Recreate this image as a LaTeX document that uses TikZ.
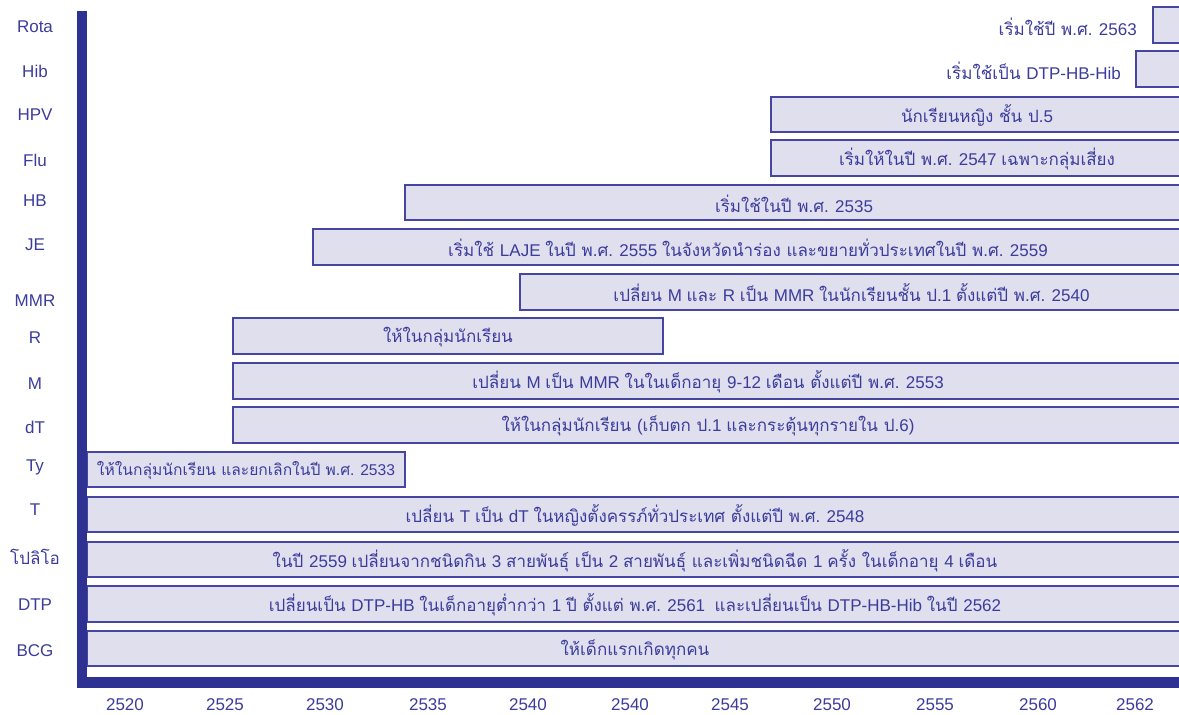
\documentclass[tikz,border=0pt]{standalone}
\usepackage{fontspec}
\setmainfont{Liberation Sans}
\newfontfamily\thaifont[Script=Thai]{Loma}
\newfontfamily\latinfont{Liberation Sans}
\usetikzlibrary{calc}
% switch to the Thai face for Thai letters
\XeTeXinterchartokenstate=1
\newXeTeXintercharclass\thaicls
\newcount\thaich
\thaich="0E00
\loop\ifnum\thaich<"0E80
	\XeTeXcharclass\thaich=\thaicls
	\advance\thaich by 1
\repeat
\XeTeXinterchartoks 0 \thaicls = {\thaifont}
\XeTeXinterchartoks 4095 \thaicls = {\thaifont}
\XeTeXinterchartoks \thaicls 0 = {\latinfont}
\XeTeXinterchartoks 4095 0 = {\latinfont}

\definecolor{axisblue}{HTML}{2E3192}
\definecolor{textblue}{HTML}{3C3C9C}
\definecolor{barfill}{HTML}{DFDFEE}
\definecolor{barline}{HTML}{4646A0}

\tikzset{
	bar/.style={draw=barline, fill=barfill, line width=1.2pt},
	bartext/.style={text=textblue, inner sep=0pt, font=\fontsize{17}{20}\selectfont},
	rowlbl/.style={text=textblue, inner sep=0pt, font=\fontsize{17}{20}\selectfont},
	yrlbl/.style={text=textblue, inner sep=0pt, font=\fontsize{17}{20}\selectfont}
}
\def\vacbar#1(#2,#3)(#4,#5)#6{\draw[bar] (#2,#3) rectangle (#4,#5);
	\node[bartext] (#1) at ({(#2+#4)/2},{(#3+#5)/2+1}) {#6};}

\begin{document}
\begin{tikzpicture}[x=1pt,y=-1pt]
				\useasboundingbox (0,0) rectangle (1179,715);
				
				\draw[bar] (1153,7) rectangle (1183,43);
				\node[bartext, anchor=east] (rota) at (1137,27) {เริ่มใช้ปี พ.ศ. 2563};
				\draw[bar] (1136,51) rectangle (1183,87);
				\node[bartext, anchor=east] (hib) at (1121,71) {เริ่มใช้เป็น DTP-HB-Hib};
				
				\vacbar{hpv}(771,97)(1183,132){นักเรียนหญิง ชั้น ป.5}
				\vacbar{flu}(771,140)(1183,176){เริ่มให้ในปี พ.ศ. 2547 เฉพาะกลุ่มเสี่ยง}
				\vacbar{hb}(405,185)(1183,220){เริ่มใช้ในปี พ.ศ. 2535}
				\vacbar{je}(313,229)(1183,265){เริ่มใช้ LAJE ในปี พ.ศ. 2555 ในจังหวัดนำร่อง และขยายทั่วประเทศในปี พ.ศ. 2559}
				\vacbar{mmr}(520,274)(1183,310){เปลี่ยน M และ R เป็น MMR ในนักเรียนชั้น ป.1 ตั้งแต่ปี พ.ศ. 2540}
				\vacbar{r}(233,318)(663,354){ให้ในกลุ่มนักเรียน}
				\vacbar{m}(233,363)(1183,399){เปลี่ยน M เป็น MMR ในในเด็กอายุ 9-12 เดือน ตั้งแต่ปี พ.ศ. 2553}
				\vacbar{dt}(233,407)(1183,443){ให้ในกลุ่มนักเรียน (เก็บตก ป.1 และกระตุ้นทุกรายใน ป.6)}
				\vacbar{ty}(87,452)(405,487){\fontsize{15.6}{19}\selectfont ให้ในกลุ่มนักเรียน และยกเลิกในปี พ.ศ. 2533}
				\vacbar{t}(87,497)(1183,532){เปลี่ยน T เป็น dT ในหญิงตั้งครรภ์ทั่วประเทศ ตั้งแต่ปี พ.ศ. 2548}
				\vacbar{polio}(87,542)(1183,577){ในปี 2559 เปลี่ยนจากชนิดกิน 3 สายพันธุ์ เป็น 2 สายพันธุ์ และเพิ่มชนิดฉีด 1 ครั้ง ในเด็กอายุ 4 เดือน}
				\vacbar{dtp}(87,586)(1183,622){เปลี่ยนเป็น DTP-HB ในเด็กอายุต่ำกว่า 1 ปี ตั้งแต่ พ.ศ. 2561 ~และเปลี่ยนเป็น DTP-HB-Hib ในปี 2562}
				\vacbar{bcg}(87,631)(1183,666){ให้เด็กแรกเกิดทุกคน}
				
				% axes
				\fill[axisblue] (77,11) rectangle (87,688);
				\fill[axisblue] (77,677) rectangle (1179,688);
				
				\foreach \y/\nm/\txt in {27/lrota/Rota, 71/lhib/Hib, 115/lhpv/HPV, 160/lflu/Flu, 201/lhb/HB, 245/lje/JE, 301/lmmr/MMR, 338/lr/R, 384/lm/M, 427/ldt/dT, 467/lty/Ty, 510/lt/T, 557/lpolio/โปลิโอ, 605/ldtp/DTP, 651/lbcg/BCG}
					\node[rowlbl] (\nm) at (35,\y) {\txt};
				
				\foreach \x/\yr [count=\i] in {125/2520, 225/2525, 325/2530, 428/2535, 528/2540, 630/2540, 730/2545, 832/2550, 935/2555, 1038/2560, 1135/2562}
					\node[yrlbl] (yr\i) at (\x,705) {\yr};
			\end{tikzpicture}
\end{document}
